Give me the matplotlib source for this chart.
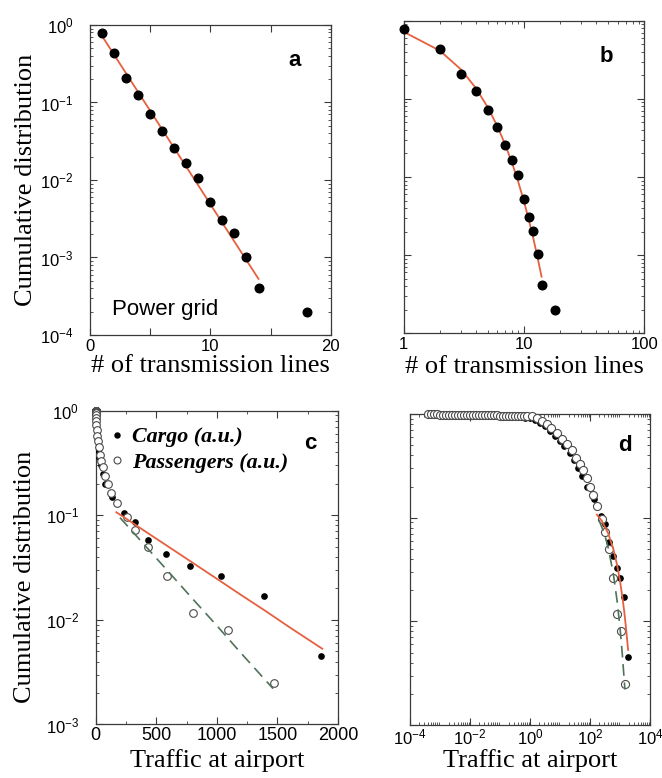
import matplotlib
matplotlib.use("Agg")
import matplotlib.pyplot as plt
from matplotlib.lines import Line2D
from matplotlib.font_manager import FontProperties
from matplotlib.ticker import LogLocator, NullFormatter, FixedLocator

# ---------------- data ----------------
# Power grid: cumulative distribution of # of transmission lines
grid_k = [1, 2, 3, 4, 5, 6, 7, 8, 9, 10, 11, 12, 13, 14, 18]
grid_cdf = [0.78, 0.43, 0.21, 0.125, 0.071, 0.043, 0.026, 0.0164, 0.0107,
            0.0052, 0.00305, 0.00205, 0.00103, 0.00041, 0.0002]
grid_fit_k = [1, 2, 3, 4, 5, 6, 7, 8, 9, 10, 11, 12, 13, 14]
grid_fit_cdf = [0.72, 0.413, 0.237, 0.136, 0.078, 0.0448, 0.0257, 0.0148,
                0.0085, 0.00486, 0.00279, 0.0016, 0.00092, 0.00053]

# Airports: cargo (filled) and passengers (open)
cargo_x = [0.0005, 0.001, 0.002, 0.005, 0.01, 0.02, 0.05, 0.1, 0.2, 0.3, 0.5,
           0.7, 1.0, 1.5, 2.2, 3.2, 4.6, 7, 10, 14, 21, 29, 41, 56, 80, 132,
           236, 324, 430, 580, 777, 1038, 1390, 1860]
cargo_cdf = [1.0, 0.995, 0.99, 0.99, 0.985, 0.98, 0.975, 0.97, 0.96, 0.95,
             0.94, 0.925, 0.91, 0.87, 0.82, 0.76, 0.69, 0.61, 0.55, 0.49,
             0.42, 0.36, 0.3, 0.25, 0.2, 0.15, 0.105, 0.086, 0.058, 0.043,
             0.033, 0.026, 0.017, 0.0045]
pass_x = [0.0004, 0.0005, 0.00063, 0.0008, 0.001, 0.00126, 0.0016, 0.002,
          0.0025, 0.0032, 0.004, 0.005, 0.0063, 0.008, 0.01, 0.0126, 0.016,
          0.02, 0.025, 0.032, 0.04, 0.05, 0.063, 0.08, 0.1, 0.126, 0.16, 0.2,
          0.25, 0.32, 0.4, 0.5, 0.63, 0.8, 1.14, 1.66, 2.45, 3.6, 5.2, 7.8,
          11.5, 16.6, 24.5, 33, 47, 58, 78, 100, 126, 174, 255, 324, 434, 585,
          800, 1093, 1470]
pass_cdf = [1.0, 1.0, 0.995, 0.995, 0.99, 0.99, 0.99, 0.985, 0.985, 0.985,
            0.98, 0.98, 0.98, 0.98, 0.975, 0.975, 0.975, 0.975, 0.97, 0.97,
            0.97, 0.97, 0.97, 0.97, 0.965, 0.965, 0.965, 0.965, 0.96, 0.96,
            0.96, 0.96, 0.96, 0.958, 0.956, 0.91, 0.86, 0.8, 0.73, 0.65, 0.57,
            0.51, 0.45, 0.38, 0.33, 0.29, 0.24, 0.2, 0.165, 0.13, 0.097,
            0.073, 0.05, 0.026, 0.0117, 0.008, 0.0025]
cargo_fit_x = [170, 250, 400, 600, 800, 1000, 1200, 1400, 1600, 1870]
cargo_fit_cdf = [0.107, 0.093, 0.0713, 0.0501, 0.0352, 0.0247, 0.0173,
                 0.0122, 0.0085, 0.0053]
pass_fit_x = [200, 300, 400, 600, 800, 1000, 1200, 1464]
pass_fit_cdf = [0.095, 0.0706, 0.0524, 0.0289, 0.0159, 0.0088, 0.0048, 0.0022]

# tick labels / texts
a_xticks = [0, 5, 10, 15, 20]
a_xticklabels = ["0", "", "10", "", "20"]
b_xticks = [1, 10, 100]
b_xticklabels = ["1", "10", "100"]
grid_yticks = [1e0, 1e-1, 1e-2, 1e-3, 1e-4]
grid_yticklabels = ["$10^{0}$", "$10^{-1}$", "$10^{-2}$", "$10^{-3}$", "$10^{-4}$"]
c_xticks = [0, 500, 1000, 1500, 2000]
c_xticklabels = ["0", "500", "1000", "1500", "2000"]
air_yticks = [1e0, 1e-1, 1e-2, 1e-3]
air_yticklabels = ["$10^{0}$", "$10^{-1}$", "$10^{-2}$", "$10^{-3}$"]
d_xticks = [1e-4, 1e-2, 1e0, 1e2, 1e4]
d_xticklabels = ["$10^{-4}$", "$10^{-2}$", "$10^{0}$", "$10^{2}$", "$10^{4}$"]

# ---------------- style ----------------
plt.rcParams["font.family"] = ["Liberation Sans", "DejaVu Sans"]
plt.rcParams["mathtext.fontset"] = "custom"
plt.rcParams["mathtext.rm"] = "Liberation Sans"
plt.rcParams["mathtext.it"] = "Liberation Sans:italic"
plt.rcParams["mathtext.bf"] = "Liberation Sans:bold"

RED = "#e5603f"
GREEN = "#4f7259"
SPINE = "#3a3a3a"
SERIF = ["Liberation Serif", "DejaVu Serif"]
LABEL_SIZE = 19
TICK_SIZE = 12

fig = plt.figure(figsize=(6.62, 7.78), dpi=100)
ax_a = fig.add_axes([0.1360, 0.5694, 0.3636, 0.3985])
ax_b = fig.add_axes([0.6098, 0.5716, 0.3634, 0.4018])
ax_c = fig.add_axes([0.1446, 0.0688, 0.3660, 0.4033])
ax_d = fig.add_axes([0.6193, 0.0681, 0.3625, 0.3997])


def style(ax):
    for s in ax.spines.values():
        s.set_linewidth(0.9)
        s.set_color(SPINE)
    ax.tick_params(which="both", direction="in", top=True, right=True,
                   colors=SPINE, labelcolor="black", labelsize=TICK_SIZE)
    ax.tick_params(which="major", length=5, width=0.8)
    ax.tick_params(which="minor", length=2.5, width=0.6)
    ax.tick_params(axis="x", pad=3)
    ax.tick_params(axis="y", pad=12)


def log_y(ax, lo, hi, ticks, labels):
    ax.set_yscale("log")
    ax.set_ylim(lo, hi)
    ax.yaxis.set_minor_locator(LogLocator(base=10, subs=range(2, 10), numticks=20))
    ax.yaxis.set_minor_formatter(NullFormatter())
    if labels is None:
        ax.set_yticks(ticks, [""] * len(ticks))
    else:
        ax.set_yticks(ticks, labels)


# ---- panel a ----
style(ax_a)
ax_a.plot(grid_fit_k, grid_fit_cdf, color=RED, lw=1.3, zorder=2)
ax_a.plot(grid_k, grid_cdf, "o", color="black", ms=6.2, zorder=3, clip_on=False)
ax_a.set_xlim(0, 20)
ax_a.set_xticks(a_xticks, a_xticklabels)
log_y(ax_a, 1e-4, 1, grid_yticks, grid_yticklabels)
ax_a.set_xlabel("# of transmission lines", family=SERIF, size=LABEL_SIZE, va="baseline")
ax_a.xaxis.set_label_coords(0.5, -0.118)
ax_a.set_ylabel("Cumulative distribution", family=SERIF, size=LABEL_SIZE, va="center")
ax_a.yaxis.set_label_coords(-0.265, 0.5)
ax_a.text(0.848, 0.884, "a", transform=ax_a.transAxes, ha="center", va="center",
          size=16, weight="bold")
ax_a.text(0.091, 0.065, "Power grid", transform=ax_a.transAxes, ha="left",
          va="baseline", size=16)

# ---- panel b ----
style(ax_b)
ax_b.plot(grid_fit_k, grid_fit_cdf, color=RED, lw=1.3, zorder=2)
ax_b.plot(grid_k, grid_cdf, "o", color="black", ms=6.2, zorder=3, clip_on=False)
ax_b.set_xscale("log")
ax_b.set_xlim(1, 100)
ax_b.xaxis.set_minor_locator(LogLocator(base=10, subs=range(2, 10), numticks=20))
ax_b.xaxis.set_minor_formatter(NullFormatter())
ax_b.set_xticks(b_xticks, b_xticklabels)
log_y(ax_b, 1e-4, 1, grid_yticks, None)
ax_b.set_xlabel("# of transmission lines", family=SERIF, size=LABEL_SIZE, va="baseline")
ax_b.xaxis.set_label_coords(0.5, -0.126)
ax_b.text(0.841, 0.887, "b", transform=ax_b.transAxes, ha="center", va="center",
          size=16, weight="bold")

# ---- panel c ----
style(ax_c)
ax_c.plot(cargo_x, cargo_cdf, "o", color="black", ms=3.8, zorder=3)
ax_c.plot(pass_x, pass_cdf, "o", mfc="white", mec="#4a4a4a", mew=0.8, ms=5.5,
          zorder=4, clip_on=False)
ax_c.plot(cargo_fit_x, cargo_fit_cdf, color=RED, lw=1.3, zorder=5)
ax_c.plot(pass_fit_x, pass_fit_cdf, color=GREEN, lw=1.2, ls=(0, (7, 4)), zorder=5)
ax_c.set_xlim(0, 2000)
ax_c.set_xticks(c_xticks, c_xticklabels)
ax_c.xaxis.set_minor_locator(FixedLocator([250, 750, 1250, 1750]))
log_y(ax_c, 1e-3, 1, air_yticks, air_yticklabels)
ax_c.tick_params(axis="x", pad=2, labelsize=13)
ax_c.set_xlabel("Traffic at airport", family=SERIF, size=LABEL_SIZE, va="baseline")
ax_c.xaxis.set_label_coords(0.5, -0.135)
ax_c.set_ylabel("Cumulative distribution", family=SERIF, size=LABEL_SIZE, va="center")
ax_c.yaxis.set_label_coords(-0.29, 0.47)
ax_c.text(0.884, 0.894, "c", transform=ax_c.transAxes, ha="center", va="center",
          size=16, weight="bold")
handles = [Line2D([], [], ls="none", marker="o", color="black", ms=3.6),
           Line2D([], [], ls="none", marker="o", mfc="white", mec="#4a4a4a",
                  mew=0.8, ms=5.0)]
ax_c.legend(handles, ["Cargo (a.u.)", "Passengers (a.u.)"], loc="upper left",
            bbox_to_anchor=(0.062, 0.948), frameon=False, handlelength=0.6,
            handletextpad=0.37, labelspacing=0.22, borderpad=0, borderaxespad=0,
            prop=FontProperties(family=SERIF, style="italic", weight="bold", size=15.8))

# ---- panel d ----
style(ax_d)
ax_d.plot(cargo_x, cargo_cdf, "o", color="black", ms=3.8, zorder=3)
ax_d.plot(pass_x, pass_cdf, "o", mfc="white", mec="#4a4a4a", mew=0.8, ms=5.8,
          zorder=4, clip_on=False)
ax_d.plot(cargo_fit_x, cargo_fit_cdf, color=RED, lw=1.3, zorder=5)
ax_d.plot(pass_fit_x, pass_fit_cdf, color=GREEN, lw=1.2, ls=(0, (7, 4)), zorder=5)
ax_d.set_xscale("log")
ax_d.set_xlim(1e-4, 1e4)
ax_d.xaxis.set_minor_locator(LogLocator(base=10, subs=range(2, 10), numticks=100))
ax_d.xaxis.set_minor_formatter(NullFormatter())
ax_d.set_xticks(d_xticks, d_xticklabels)
ax_d.xaxis.set_major_locator(LogLocator(base=10, numticks=20))
ax_d.set_xticks(d_xticks, d_xticklabels)
log_y(ax_d, 1e-3, 1, air_yticks, None)
ax_d.tick_params(axis="x", pad=1.5)
ax_d.set_xlabel("Traffic at airport", family=SERIF, size=LABEL_SIZE, va="baseline")
ax_d.xaxis.set_label_coords(0.5, -0.135)
ax_d.text(0.896, 0.9, "d", transform=ax_d.transAxes, ha="center", va="center",
          size=16, weight="bold")

fig.savefig("out.png", dpi=100)
